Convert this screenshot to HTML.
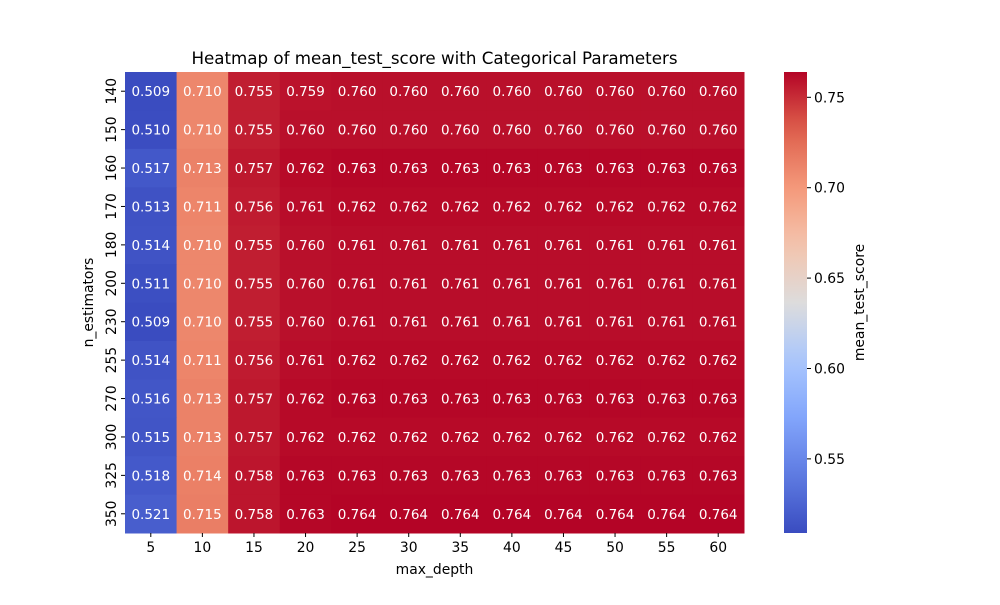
<!DOCTYPE html>
<html><head><meta charset="utf-8"><style>body{margin:0;background:#fff}svg text{font-family:"DejaVu Sans","Liberation Sans",sans-serif}</style></head>
<body>
<svg id="c" width="1000" height="600" xmlns="http://www.w3.org/2000/svg"></svg>
<script>
const xCats=[5,10,15,20,25,30,35,40,45,50,55,60];
const yCats=[140,150,160,170,180,200,230,255,270,300,325,350];
const r140=[.509,.710,.755,.759,.760,.760,.760,.760,.760,.760,.760,.760];
const r150=[.510,.710,.755,.760,.760,.760,.760,.760,.760,.760,.760,.760];
const r160=[.517,.713,.757,.762,.763,.763,.763,.763,.763,.763,.763,.763];
const r170=[.513,.711,.756,.761,.762,.762,.762,.762,.762,.762,.762,.762];
const r180=[.514,.710,.755,.760,.761,.761,.761,.761,.761,.761,.761,.761];
const r200=[.511,.710,.755,.760,.761,.761,.761,.761,.761,.761,.761,.761];
const r230=[.509,.710,.755,.760,.761,.761,.761,.761,.761,.761,.761,.761];
const r255=[.514,.711,.756,.761,.762,.762,.762,.762,.762,.762,.762,.762];
const r270=[.516,.713,.757,.762,.763,.763,.763,.763,.763,.763,.763,.763];
const r300=[.515,.713,.757,.762,.762,.762,.762,.762,.762,.762,.762,.762];
const r325=[.518,.714,.758,.763,.763,.763,.763,.763,.763,.763,.763,.763];
const r350=[.521,.715,.758,.763,.764,.764,.764,.764,.764,.764,.764,.764];
const rows=[r140,r150,r160,r170,r180,r200,r230,r255,r270,r300,r325,r350];
const cbTicks=[0.55,0.60,0.65,0.70,0.75];
const NS="http://www.w3.org/2000/svg",svg=document.getElementById('c');
function el(t,a,txt){const e=document.createElementNS(NS,t);for(const k in a)e.setAttribute(k,a[k]);if(txt!==undefined)e.textContent=txt;svg.appendChild(e);return e;}
const L=125,R=744,T=72,B=533;
const cw=(R-L)/xCats.length,ch=(B-T)/yCats.length;
const all=rows.flat();const vmin=Math.min(...all),vmax=Math.max(...all);
const stops=[[58,76,192],[94,123,226],[130,165,251],[170,199,253],[221,220,220],[244,196,173],[244,152,122],[222,96,76],[180,4,38]];
function cmap(v){let t=(v-vmin)/(vmax-vmin);t=Math.max(0,Math.min(1,t));const p=t*8,i=Math.min(7,Math.floor(p)),f=p-i;const a=stops[i],b=stops[i+1];return `rgb(${a.map((x,j)=>Math.round(x+(b[j]-x)*f)).join(',')})`;}
const xs=i=>L+i*cw, ys=i=>T+i*ch;
rows.forEach((row,ri)=>row.forEach((v,ci)=>{
 const r=el('rect',{x:xs(ci),y:ys(ri),width:cw+0.5,height:ch+0.5,fill:cmap(v)});
 
 
 const t=el('text',{x:xs(ci)+cw/2,y:ys(ri)+ch/2+5,'text-anchor':'middle','font-size':13.5,fill:'#fff'},v.toFixed(3));
 
 
}));
xCats.forEach((c,i)=>{const x=xs(i)+cw/2;el('line',{x1:x,x2:x,y1:B,y2:B+4,stroke:'#000'});
 const t=el('text',{x:x,y:B+19,'text-anchor':'middle','font-size':13.9},c);});
yCats.forEach((c,i)=>{const y=ys(i)+ch/2;el('line',{x1:L-4,x2:L,y1:y,y2:y,stroke:'#000'});
 const t=el('text',{x:0,y:0,'text-anchor':'middle','font-size':13.9,transform:`translate(${L-9},${y}) rotate(-90)`},c);});
let t=el('text',{x:(L+R)/2,y:64,'text-anchor':'middle','font-size':16.7},'Heatmap of mean_test_score with Categorical Parameters');
t=el('text',{x:(L+R)/2,y:574,'text-anchor':'middle','font-size':13.9},'max_depth');
t=el('text',{x:0,y:0,'text-anchor':'middle','font-size':13.9,transform:`translate(93,${(T+B)/2}) rotate(-90)`},'n_estimators');
const CL=784,CR=807;
const defs=el('defs',{});const g=document.createElementNS(NS,'linearGradient');g.setAttribute('id','cg');g.setAttribute('x1','0');g.setAttribute('y1','1');g.setAttribute('x2','0');g.setAttribute('y2','0');defs.appendChild(g);
for(let k=0;k<=20;k++){const s=document.createElementNS(NS,'stop');s.setAttribute('offset',k/20);s.setAttribute('stop-color',cmap(vmin+(vmax-vmin)*k/20));g.appendChild(s);}
const cb=el('rect',{x:CL,y:T,width:CR-CL,height:B-T,fill:'url(#cg)'});
const cy=v=>B-(v-vmin)/(vmax-vmin)*(B-T);
cbTicks.forEach(v=>{const y=cy(v);el('line',{x1:CR,x2:CR+4,y1:y,y2:y,stroke:'#000'});
 const tt=el('text',{x:CR+7,y:y+5,'font-size':13.9},v.toFixed(2));});
t=el('text',{x:0,y:0,'text-anchor':'middle','font-size':13.9,transform:`translate(864,${(T+B)/2}) rotate(-90)`},'mean_test_score');
</script>
</body></html>
